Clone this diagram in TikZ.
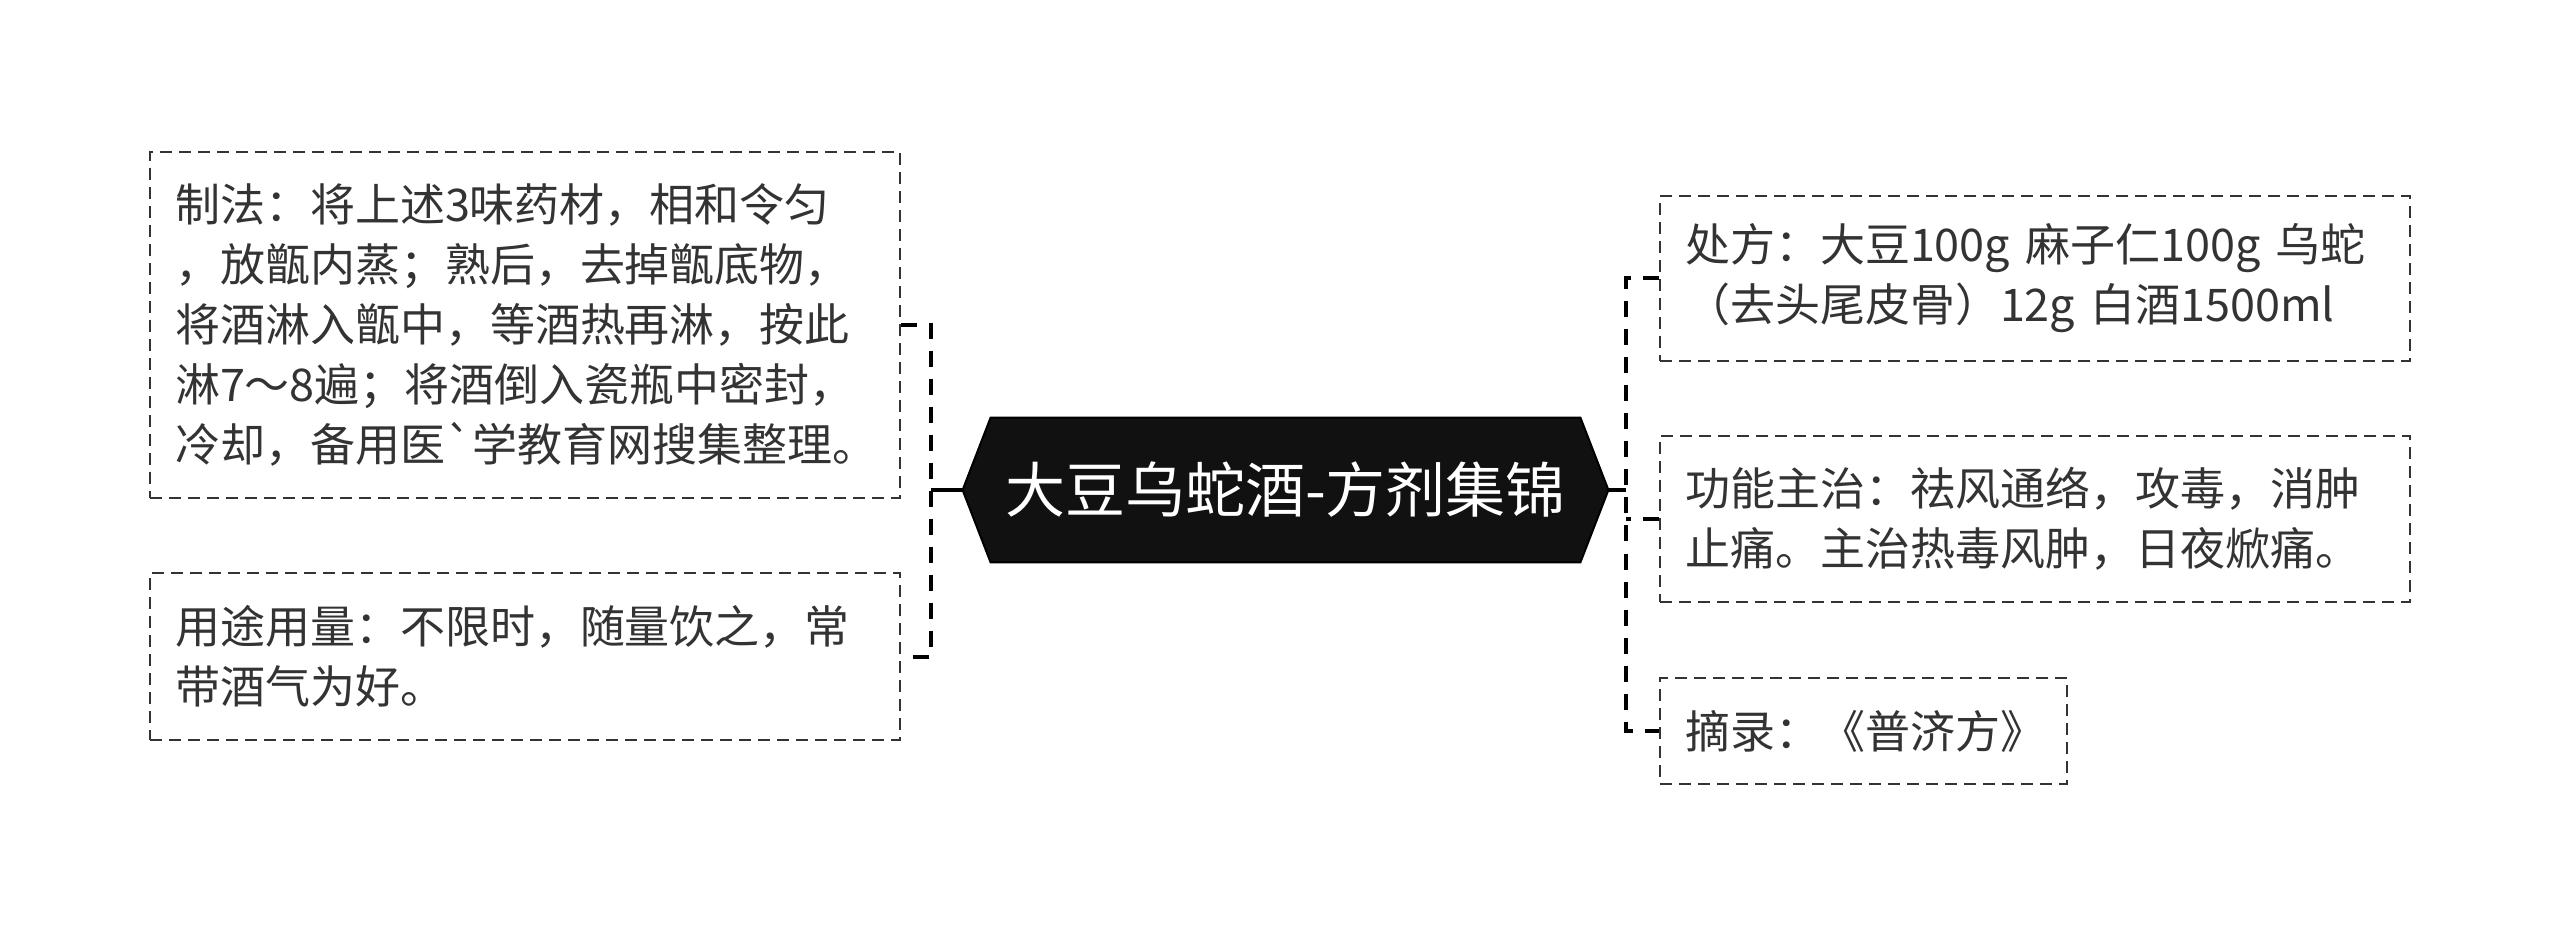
\documentclass[tikz,border=0pt]{standalone}
\usepackage{fontspec}
\setmainfont{Noto Sans CJK SC}
\newfontfamily\gravefont{Noto Sans CJK SC} % no TeX ligatures here, so ` stays a grave
\usetikzlibrary{backgrounds}
\definecolor{txtgray}{HTML}{333333}
\definecolor{rootfill}{HTML}{111111}

\begin{document}
\begin{tikzpicture}[x=.5pt,y=-.5pt,
  leaf/.style={draw=txtgray, line width=1pt, dash pattern=on 6pt off 3.5pt,
    text=txtgray, align=left, inner xsep=12.5pt, inner ysep=0pt,
    minimum width=375pt, text width=350pt,
    font=\fontsize{22.5pt}{30pt}\selectfont},
  link/.style={draw=black, line width=2pt, dash pattern=on 8pt off 6pt},
  stub/.style={draw=black, line width=2pt}]

 \useasboundingbox (0,0) rectangle (2560,935); % keep the margins of the page

% the title in the middle
\node (root) [minimum width=322.5pt, minimum height=72pt, inner sep=0pt,
  text=white, font=\fontsize{30pt}{34pt}\selectfont] at (1285.5,490) {大豆乌蛇酒-方剂集锦};
\begin{scope}[on background layer]
 \filldraw[fill=rootfill, draw=black, line width=1pt]
   ([xshift=14pt]root.north west) -- ([xshift=-14pt]root.north east) -- (root.east)
   -- ([xshift=-14pt]root.south east) -- ([xshift=14pt]root.south west) -- (root.west) -- cycle;
\end{scope}

% left side
\node (lbox1) [leaf, minimum height=173pt] at (525,325)
  {制法：将上述3味药材，相和令匀\\，放甑内蒸；熟后，去掉甑底物，\\将酒淋入甑中，等酒热再淋，按此\\淋7～8遍；将酒倒入瓷瓶中密封，\\冷却，备用医{\gravefont`}学教育网搜集整理。};
\node (lbox2) [leaf, minimum height=83.5pt] at (525,656.5)
  {用途用量：不限时，随量饮之，常\\带酒气为好。};

% right side
\node (rbox1) [leaf, minimum height=82.5pt] at (2035,278.5)
  {处方：大豆100g 麻子仁100g 乌蛇\\（去头尾皮骨）12g 白酒1500ml};
\node (rbox2) [leaf, minimum height=83pt] at (2035,519)
  {功能主治：祛风通络，攻毒，消肿\\止痛。主治热毒风肿，日夜焮痛。};
\node (rbox3) [leaf, minimum height=53pt, minimum width=203.5pt, text width=178.5pt] at (1863.5,731)
  {摘录：《普济方》};

\coordinate (lbus) at (931,490);
\coordinate (rbus) at (1626,490);

\draw[stub] (root.west) -- (lbus);
\draw[link] (lbox1.east) -- (lbox1.east -| lbus) -- (lbox2.east -| lbus) -- (lbox2.east);

\draw[stub] (root.east) -- (rbus);
\draw[link] (rbox1.west) -- (rbox1.west -| rbus) -- (rbox3.west -| rbus) -- (rbox3.west);
\draw[link] (rbox2.west) -- (rbox2.west -| rbus);
\end{tikzpicture}
\end{document}
